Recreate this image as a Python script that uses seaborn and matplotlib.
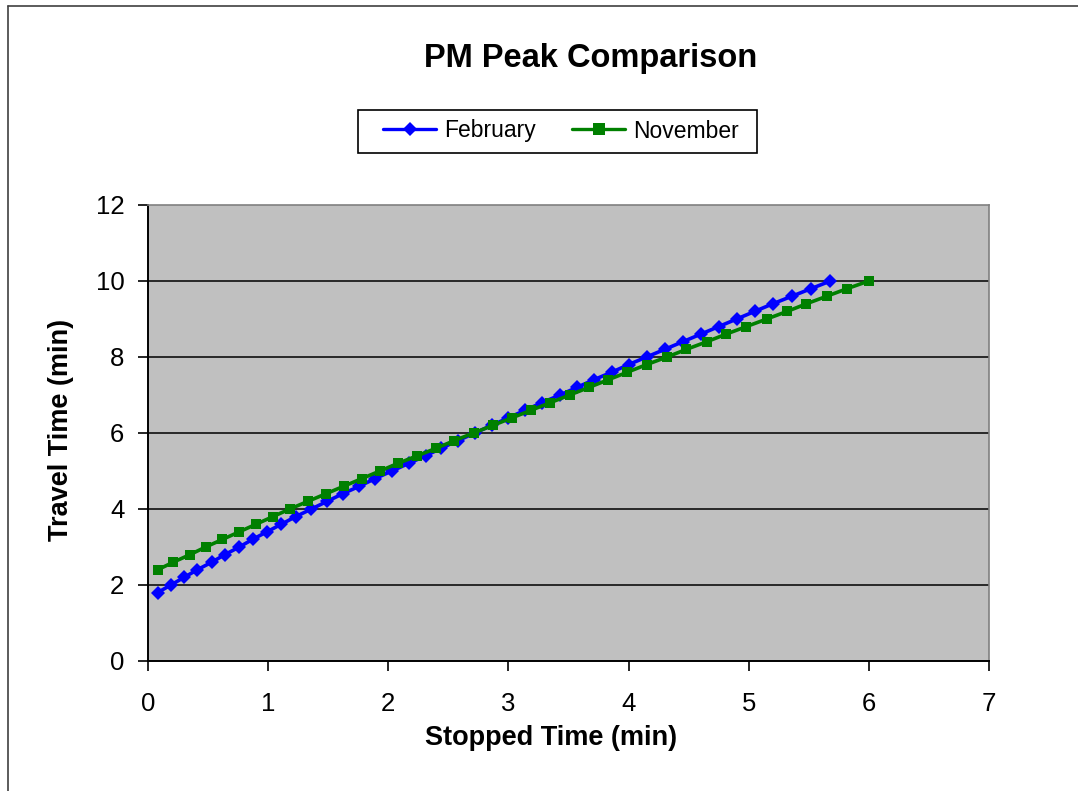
import matplotlib
matplotlib.use("Agg")
import matplotlib.pyplot as plt
import seaborn as sns
import pandas as pd
from matplotlib.lines import Line2D
from matplotlib.patches import Rectangle

# ---- data ----
feb_stopped = [0.08, 0.19, 0.30, 0.41, 0.53, 0.64, 0.76, 0.87, 0.99, 1.11,
               1.23, 1.36, 1.49, 1.62, 1.76, 1.89, 2.03, 2.17, 2.31, 2.44,
               2.58, 2.72, 2.86, 3.00, 3.14, 3.28, 3.43, 3.57, 3.71, 3.86,
               4.00, 4.15, 4.30, 4.45, 4.60, 4.75, 4.90, 5.05, 5.20, 5.36,
               5.52, 5.68]
feb_travel = [1.8, 2.0, 2.2, 2.4, 2.6, 2.8, 3.0, 3.2, 3.4, 3.6,
              3.8, 4.0, 4.2, 4.4, 4.6, 4.8, 5.0, 5.2, 5.4, 5.6,
              5.8, 6.0, 6.2, 6.4, 6.6, 6.8, 7.0, 7.2, 7.4, 7.6,
              7.8, 8.0, 8.2, 8.4, 8.6, 8.8, 9.0, 9.2, 9.4, 9.6,
              9.8, 10.0]
nov_stopped = [0.08, 0.21, 0.35, 0.48, 0.62, 0.76, 0.90, 1.04, 1.18, 1.33,
               1.48, 1.63, 1.78, 1.93, 2.08, 2.24, 2.40, 2.55, 2.71, 2.87,
               3.03, 3.19, 3.35, 3.51, 3.67, 3.83, 3.99, 4.15, 4.32, 4.48,
               4.65, 4.81, 4.98, 5.15, 5.32, 5.48, 5.65, 5.82, 6.00]
nov_travel = [2.4, 2.6, 2.8, 3.0, 3.2, 3.4, 3.6, 3.8, 4.0, 4.2,
              4.4, 4.6, 4.8, 5.0, 5.2, 5.4, 5.6, 5.8, 6.0, 6.2,
              6.4, 6.6, 6.8, 7.0, 7.2, 7.4, 7.6, 7.8, 8.0, 8.2,
              8.4, 8.6, 8.8, 9.0, 9.2, 9.4, 9.6, 9.8, 10.0]
series_names = ["February", "November"]
x_ticks = [0, 1, 2, 3, 4, 5, 6, 7]
y_ticks = [0, 2, 4, 6, 8, 10, 12]

df = pd.concat([
    pd.DataFrame({"Stopped": feb_stopped, "Travel": feb_travel, "Month": series_names[0]}),
    pd.DataFrame({"Stopped": nov_stopped, "Travel": nov_travel, "Month": series_names[1]}),
], ignore_index=True)

sns.set_theme(style="white")
plt.rcParams["font.family"] = ["Liberation Sans", "DejaVu Sans"]
plt.rcParams["text.color"] = "black"
plt.rcParams["axes.labelcolor"] = "black"
plt.rcParams["xtick.color"] = "black"
plt.rcParams["ytick.color"] = "black"

W, H = 1078, 791
fig = plt.figure(figsize=(W / 100, H / 100), dpi=100)
ax = fig.add_axes([148 / W, 1 - 661 / H, (989 - 148) / W, (661 - 205) / H])
ax.set_facecolor("#C0C0C0")

colors = {"February": "#0000FF", "November": "#008000"}
markers = {"February": "D", "November": "s"}

for name in series_names:
    sub = df[df["Month"] == name]
    sns.lineplot(data=sub, x="Stopped", y="Travel", ax=ax, color=colors[name],
                 marker=markers[name], markersize=7 if name == "February" else 7.8,
                 markeredgewidth=0, linewidth=2.6, sort=False, estimator=None,
                 label=name, legend=False)

ax.set_xlim(0, 7)
ax.set_ylim(0, 12)
ax.set_xticks(x_ticks)
ax.set_yticks(y_ticks)
ax.set_xticklabels([str(t) for t in x_ticks], fontsize=18.5)
ax.set_yticklabels([str(t) for t in y_ticks], fontsize=18.5)
ax.tick_params(axis="both", direction="out", length=7, width=1.2, color="black",
               bottom=True, left=True, labelcolor="black")
ax.tick_params(axis="x", pad=15)
ax.tick_params(axis="y", pad=10)
ax.grid(False)
for yv in y_ticks[1:-1]:
    ax.axhline(yv, color="black", linewidth=1.1, zorder=0.5)

for side in ["top", "right"]:
    ax.spines[side].set_color("#808080")
    ax.spines[side].set_linewidth(1.2)
for side in ["left", "bottom"]:
    ax.spines[side].set_color("black")
    ax.spines[side].set_linewidth(1.4)

ax.set_xlabel("Stopped Time (min)", fontsize=19.5, fontweight="bold", color="black")
ax.set_ylabel("Travel Time (min)", fontsize=19.5, fontweight="bold", color="black")
ax.xaxis.set_label_coords((551 - 148) / (989 - 148), -(738 - 661) / (661 - 205),
                          transform=ax.transAxes)
ax.xaxis.label.set_va("center")
ax.yaxis.set_label_coords(-(148 - 61) / (989 - 148), (661 - 430) / (661 - 205),
                          transform=ax.transAxes)
ax.yaxis.label.set_va("center")

fig.text(591 / W, 1 - 58 / H, "PM Peak Comparison", fontsize=23.5, fontweight="bold",
         ha="center", va="center", color="black")

handles = [Line2D([0], [0], color=colors[n], marker=markers[n], linewidth=2.4,
                  markersize=7.5 if n == "February" else 8.5, markeredgewidth=0)
           for n in series_names]
leg = fig.legend(handles, series_names, loc="center", bbox_to_anchor=(561 / W, 1 - 131 / H),
                 ncol=2, fontsize=16.5, frameon=False,
                 handlelength=2.3, columnspacing=1.6, borderpad=0.3, handletextpad=0.35,
                 borderaxespad=0)
for t in leg.get_texts():
    t.set_color("black")

# legend frame
fig.add_artist(Rectangle((358 / W, 1 - 153 / H), (757 - 358) / W, (153 - 110) / H,
                         transform=fig.transFigure, fill=False, edgecolor="black",
                         linewidth=1.2))

# chart area border (left and top visible)
fig.add_artist(Line2D([8 / W, 8 / W], [0, 1 - 6 / H], transform=fig.transFigure,
                      color="#404040", linewidth=1.2))
fig.add_artist(Line2D([8 / W, 1], [1 - 6 / H, 1 - 6 / H], transform=fig.transFigure,
                      color="#404040", linewidth=1.2))

fig.savefig("out.png", dpi=100)
